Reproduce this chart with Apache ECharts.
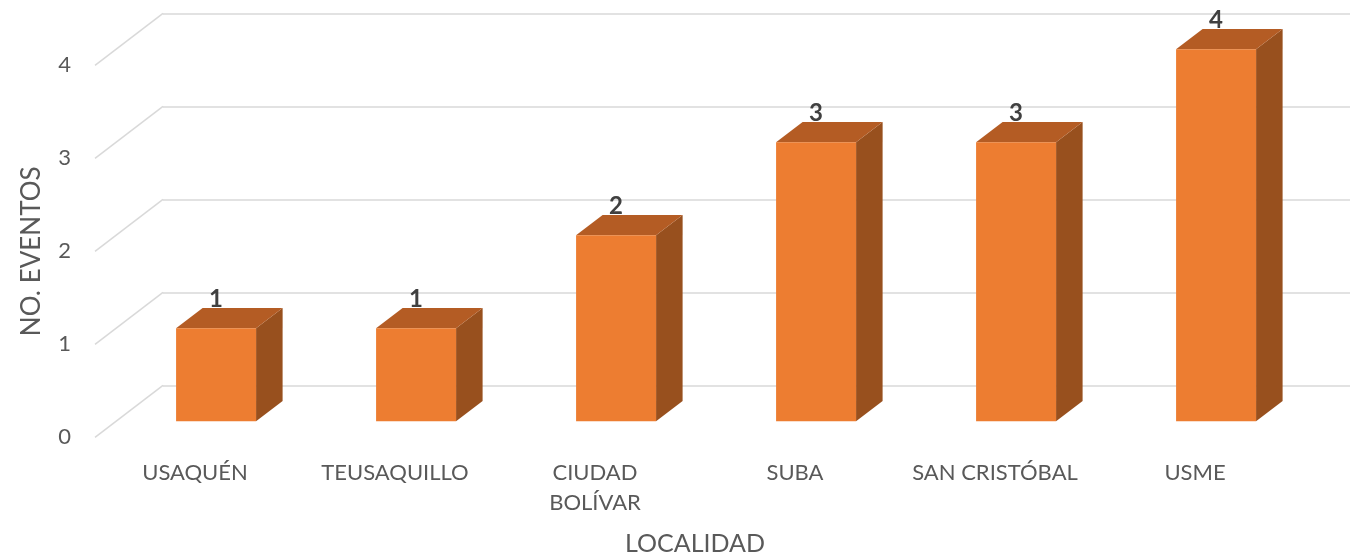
<!DOCTYPE html>
<html>
<head>
<meta charset="utf-8">
<script src="https://cdn.jsdelivr.net/npm/echarts@6/dist/echarts.min.js"></script>
<style>
  html, body { margin: 0; padding: 0; background: #ffffff; }
  #chart { width: 1350px; height: 559px; }
</style>
</head>
<body>
<div id="chart"></div>
<script>
// Localities and number of recorded events
const categories = ['USAQUÉN', 'TEUSAQUILLO', 'CIUDAD\nBOLÍVAR', 'SUBA', 'SAN CRISTÓBAL', 'USME'];
const eventCounts = [1, 1, 2, 3, 3, 4];
const valueTicks = [0, 1, 2, 3, 4];

// Pseudo-3D geometry (pixels): offset from the back wall to the front edge of the floor
const FLOOR_DX = -68;
const FLOOR_DY = 52;
// bars occupy this slice of the floor depth (0 = back wall, 1 = front edge)
const BAR_FRONT = 0.69;
const BAR_BACK = 0.30;
const BAR_WIDTH_RATIO = 0.4;

const COLOR_FRONT = '#ED7D31';
const COLOR_TOP = '#B45C24';
const COLOR_SIDE = '#98501E';
const FONT = 'Lato, "Open Sans", sans-serif';

const chart = echarts.init(document.getElementById('chart'), null, { renderer: 'canvas' });

const BACK = { left: 163, top: 13.3, width: 1200, height: 372 };
const FRONT = {
  left: BACK.left + FLOOR_DX,
  top: BACK.top + FLOOR_DY,
  width: BACK.width,
  height: BACK.height
};

// diagonal guide from each back-wall gridline to the front edge
function renderDiagonal(params, api) {
  const p = api.coord([0, api.value(1)]);
  const x0 = params.coordSys.x;
  return {
    type: 'line',
    shape: { x1: x0, y1: p[1], x2: x0 + FLOOR_DX, y2: p[1] + FLOOR_DY },
    style: { stroke: '#D9D9D9', lineWidth: 1.5 }
  };
}

// bars are laid out on the front plane and pushed back into the depth
function renderBar(params, api) {
  const i = api.value(0);
  const v = api.value(1);
  const base = api.coord([i, 0]);
  const top = api.coord([i, v]);
  const band = api.size([1, 0])[0];
  const w = band * BAR_WIDTH_RATIO;

  const back = 1 - BAR_FRONT;
  const fcx = base[0] - FLOOR_DX * back;
  const fx0 = fcx - w / 2;
  const fx1 = fcx + w / 2;
  const fyB = base[1] - FLOOR_DY * back;
  const fyT = top[1] - FLOOR_DY * back;
  const dx = FLOOR_DX * (BAR_BACK - BAR_FRONT);
  const dy = FLOOR_DY * (BAR_BACK - BAR_FRONT);

  return {
    type: 'group',
    children: [
      {
        type: 'polygon',
        shape: { points: [[fx1, fyT], [fx1 + dx, fyT + dy], [fx1 + dx, fyB + dy], [fx1, fyB]] },
        style: { fill: COLOR_SIDE }
      },
      {
        type: 'polygon',
        shape: { points: [[fx0, fyT], [fx0 + dx, fyT + dy], [fx1 + dx, fyT + dy], [fx1, fyT]] },
        style: { fill: COLOR_TOP }
      },
      {
        type: 'rect',
        shape: { x: fx0, y: fyT, width: w, height: fyB - fyT },
        style: { fill: COLOR_FRONT }
      },
      {
        type: 'text',
        x: fcx,
        y: fyT - 29,
        style: {
          text: String(v),
          fill: '#404040',
          font: 'bold 24px ' + FONT,
          align: 'center',
          verticalAlign: 'middle'
        }
      }
    ]
  };
}

const option = {
  backgroundColor: '#ffffff',
  animation: false,
  grid: [
    Object.assign({ containLabel: false, outerBoundsMode: 'none' }, BACK),
    Object.assign({ containLabel: false, outerBoundsMode: 'none' }, FRONT)
  ],
  xAxis: [
    {
      gridIndex: 0,
      type: 'category',
      data: categories,
      axisLine: { show: false },
      axisTick: { show: false },
      axisLabel: { show: false },
      splitLine: { show: false }
    },
    {
      gridIndex: 1,
      type: 'category',
      data: categories,
      axisLine: { show: false },
      axisTick: { show: false },
      axisLabel: {
        color: '#595959',
        fontFamily: FONT,
        fontSize: 22,
        lineHeight: 30,
        margin: 21,
        interval: 0
      },
      name: 'LOCALIDAD',
      nameLocation: 'middle',
      nameGap: 94,
      nameTextStyle: { color: '#595959', fontFamily: FONT, fontSize: 25 }
    }
  ],
  yAxis: [
    {
      gridIndex: 0,
      type: 'value',
      min: 0,
      max: 4,
      interval: 1,
      axisLine: { show: false },
      axisTick: { show: false },
      axisLabel: { show: false },
      splitLine: { show: true, lineStyle: { color: '#D9D9D9', width: 1.5 } }
    },
    {
      gridIndex: 1,
      type: 'value',
      min: 0,
      max: 4,
      interval: 1,
      axisLine: { show: false },
      axisTick: { show: false },
      splitLine: { show: false },
      axisLabel: {
        color: '#595959',
        fontFamily: FONT,
        fontSize: 22,
        margin: 24
      },
      name: 'NO. EVENTOS',
      nameLocation: 'middle',
      nameRotate: 90,
      nameGap: 50,
      nameTextStyle: { color: '#595959', fontFamily: FONT, fontSize: 26 }
    }
  ],
  series: [
    {
      type: 'custom',
      xAxisIndex: 0,
      yAxisIndex: 0,
      clip: false,
      silent: true,
      renderItem: renderDiagonal,
      data: valueTicks.map(function (t) { return [0, t]; }),
      z: 1
    },
    {
      type: 'custom',
      xAxisIndex: 1,
      yAxisIndex: 1,
      clip: false,
      renderItem: renderBar,
      data: eventCounts.map(function (v, i) { return [i, v]; }),
      z: 2
    }
  ]
};

chart.setOption(option);
</script>
</body>
</html>
